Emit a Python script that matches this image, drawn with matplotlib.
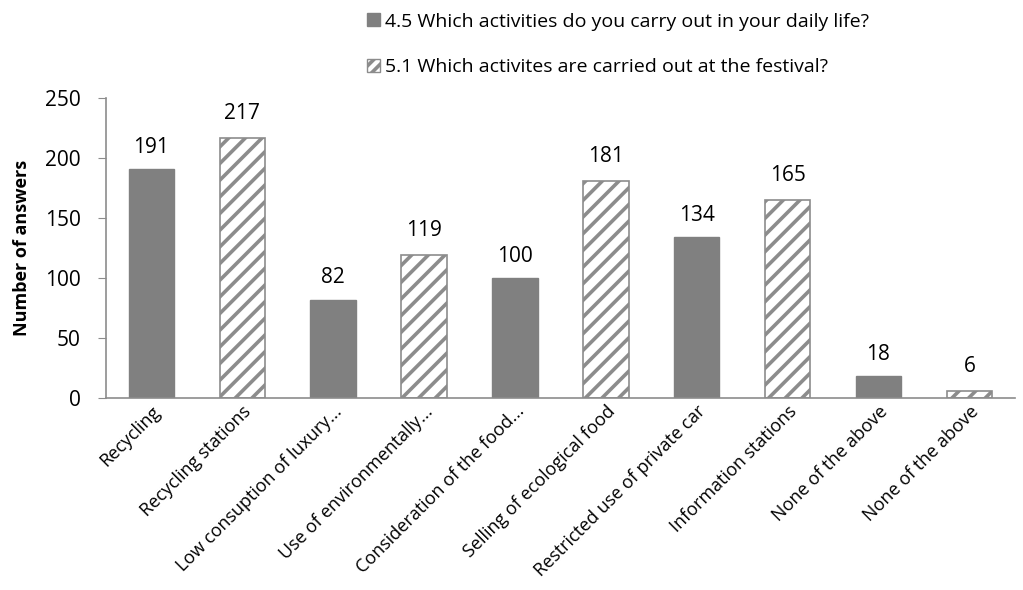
import matplotlib
matplotlib.use("Agg")
import matplotlib.pyplot as plt
import numpy as np
from matplotlib.patches import Patch

plt.rcParams["font.family"] = ["Open Sans", "DejaVu Sans"]
plt.rcParams["hatch.linewidth"] = 2.6
plt.rcParams["hatch.color"] = "#9a9a9a"

categories = [
    "Recycling", "Recycling stations", "Low consuption of luxury...",
    "Use of environmentally...", "Consideration of the food...",
    "Selling of ecological food", "Restricted use of private car",
    "Information stations", "None of the above", "None of the above",
]
# even slots: daily life answers, odd slots: festival answers
daily_values = [191, 82, 100, 134, 18]
festival_values = [217, 119, 181, 165, 6]
daily_label = "4.5 Which activities do you carry out in your daily life?"
festival_label = "5.1 Which activites are carried out at the festival?"

x = np.arange(len(categories))
x_daily = x[0::2]
x_fest = x[1::2]

fig = plt.figure(figsize=(10.23, 5.90), dpi=100)
ax = fig.add_axes([0.1036, 0.3254, 0.8884, 0.5085])

w = 0.5
ax.bar(x_daily, daily_values, w, color="#808080", edgecolor="#808080")
ax.bar(x_fest, festival_values, w, color="white", edgecolor="#8c8c8c",
       hatch="//", linewidth=1.2)

for xi, v in zip(x_daily, daily_values):
    ax.annotate(str(v), (xi, v), xytext=(0, 8), textcoords="offset points",
                ha="center", va="bottom", fontsize=15)
for xi, v in zip(x_fest, festival_values):
    ax.annotate(str(v), (xi, v), xytext=(0, 10), textcoords="offset points",
                ha="center", va="bottom", fontsize=15)

ax.set_xlim(-0.5, len(categories) - 0.5)
ax.set_ylim(0, 250)
ax.set_yticks(range(0, 251, 50))
ax.tick_params(axis="y", labelsize=15, length=6, color="#8c8c8c", pad=12)
ax.tick_params(axis="x", length=0, pad=3)
ax.set_xticks(x)
ax.set_xticklabels(categories, rotation=45, ha="right", rotation_mode="anchor",
                   fontsize=13)
ax.set_ylabel("Number of answers", fontsize=13, fontweight="bold", labelpad=10)

for side in ("top", "right"):
    ax.spines[side].set_visible(False)
for side in ("left", "bottom"):
    ax.spines[side].set_color("#8c8c8c")
    ax.spines[side].set_linewidth(1.2)

handles = [
    Patch(facecolor="#808080", edgecolor="#808080", label=daily_label),
    Patch(facecolor="white", edgecolor="#8c8c8c", hatch="///", label=festival_label),
]
fig.legend(handles=handles, loc="upper left", bbox_to_anchor=(0.342, 1.008),
           frameon=False, fontsize=14, handlelength=0.65, handleheight=0.65,
           handletextpad=0.25, labelspacing=1.4)

fig.savefig("out.png", dpi=100)
